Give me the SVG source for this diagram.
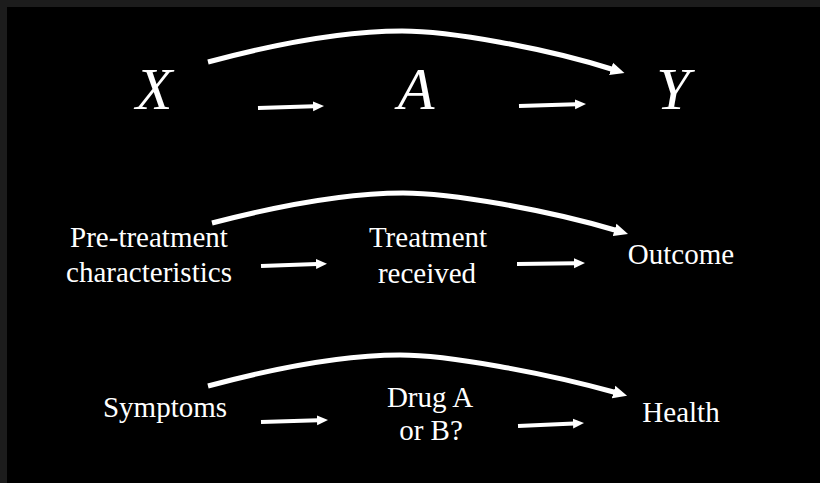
<svg xmlns="http://www.w3.org/2000/svg" width="820" height="483" viewBox="0 0 820 483">
  <style>
    .lbl { font-family: "Liberation Serif", "Times New Roman", serif; font-size: 29px; fill: #ffffff; text-anchor: middle; }
    .math { font-family: "Liberation Serif", "Times New Roman", serif; font-style: italic; font-size: 60px; fill: #ffffff; text-anchor: middle; }
    .curve { fill: none; stroke: #ffffff; stroke-width: 5; marker-end: url(#headBig); }
    .straight { fill: none; stroke: #ffffff; stroke-width: 4; marker-end: url(#headSmall); }
  </style>
  <defs>
    <marker id="headBig" markerUnits="userSpaceOnUse" viewBox="0 -7 16 14" markerWidth="16" markerHeight="14" refX="2" refY="0" orient="auto">
      <path d="M0,-6.5 L14,0 L0,6.5 z" fill="#ffffff"/>
    </marker>
    <marker id="headSmall" markerUnits="userSpaceOnUse" viewBox="0 -6 12 12" markerWidth="12" markerHeight="12" refX="1" refY="0" orient="auto">
      <path d="M0,-5 L11,0 L0,5 z" fill="#ffffff"/>
    </marker>
  </defs>
  <rect x="0" y="0" width="820" height="483" fill="#000000"/>
  <rect x="0" y="0" width="820" height="7" fill="#1c1c1c"/>
  <rect x="0" y="0" width="7" height="483" fill="#1c1c1c"/>

  <g id="connectors">
    <path class="curve" d="M208,62 C290,40 350,31 402,31 C450,31 545,48 613,69.5"/>
    <path class="straight" d="M258,108 L314,106.3"/>
    <path class="straight" d="M519,106 L576,104.3"/>

    <path class="curve" d="M212,223 C293,202 352,193 403,193 C451,193 548,210 616.5,230.5"/>
    <path class="straight" d="M261,266 L317,264"/>
    <path class="straight" d="M517,264 L575,263.2"/>

    <path class="curve" d="M208,386 C290,364 349,355 400,355 C448,355 546,373 615.5,392.5"/>
    <path class="straight" d="M261,422 L318,420.3"/>
    <path class="straight" d="M518,426 L574,423.5"/>
  </g>

  <g id="node-X"><text class="math" x="154" y="109">X</text></g>
  <g id="node-A"><text class="math" x="416" y="109">A</text></g>
  <g id="node-Y"><text class="math" x="673" y="109">Y</text></g>

  <g id="node-pretreatment">
    <text class="lbl" x="149" y="247">Pre-treatment</text>
    <text class="lbl" x="149" y="282">characteristics</text>
  </g>
  <g id="node-treatment">
    <text class="lbl" x="428" y="247">Treatment</text>
    <text class="lbl" x="427" y="283">received</text>
  </g>
  <g id="node-outcome"><text class="lbl" x="681" y="264">Outcome</text></g>

  <g id="node-symptoms"><text class="lbl" x="165" y="417">Symptoms</text></g>
  <g id="node-drug">
    <text class="lbl" x="430" y="407">Drug A</text>
    <text class="lbl" x="431" y="440">or B?</text>
  </g>
  <g id="node-health"><text class="lbl" x="681" y="422">Health</text></g>
</svg>
